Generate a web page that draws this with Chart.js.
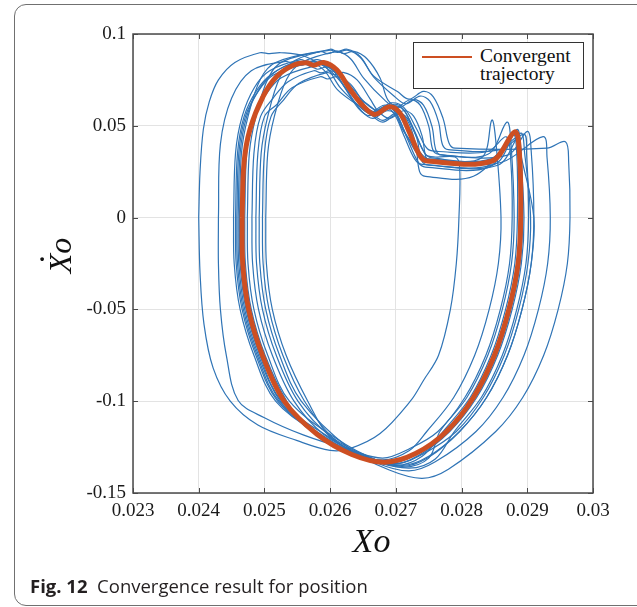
<!DOCTYPE html>
<html>
<head>
<meta charset="utf-8">
<script src="https://cdn.jsdelivr.net/npm/chart.js@4.4.1/dist/chart.umd.min.js"></script>
<style>
  body { margin: 0; background: #fff; width: 637px; height: 607px; overflow: hidden; position: relative; }
  #frame { position: absolute; left: 14px; top: 4px; width: 660px; height: 602px; border: 1px solid #707070; border-radius: 12px; box-sizing: border-box; }
  #chart { position: absolute; left: 0; top: 0; }
  #legend { position: absolute; left: 413px; top: 42px; width: 171px; height: 47px; border: 1px solid #333; box-sizing: border-box; background: #fff; }
  #legend .swatch { position: absolute; left: 8px; top: 13px; width: 50px; height: 2px; background: #cd4f22; }
  #legend .text { position: absolute; left: 66px; top: 4px; font: 19.5px/17.5px 'Liberation Serif', serif; color: #111; }
  #caption { position: absolute; left: 30px; top: 573px; font: 18.5px 'Open Sans', sans-serif; color: #231f20; white-space: pre; }
  #caption b { font-weight: 700; }
</style>
</head>
<body>
<div id="frame"></div>
<canvas id="chart" width="637" height="607"></canvas>
<div id="legend"><span class="swatch"></span><span class="text">Convergent<br>trajectory</span></div>
<div id="caption"><b>Fig. 12</b>  Convergence result for position</div>
<script>
// axis ticks
const xTicks = [0.023, 0.024, 0.025, 0.026, 0.027, 0.028, 0.029, 0.03];
const xTickLabels = ['0.023', '0.024', '0.025', '0.026', '0.027', '0.028', '0.029', '0.03'];
const yTicks = [-0.15, -0.1, -0.05, 0, 0.05, 0.1];
const yTickLabels = ['-0.15', '-0.1', '-0.05', '0', '0.05', '0.1'];

// convergent trajectory (X, dX)
const convergent = [[0.02466,0.000],[0.02469,0.030],[0.02478,0.048],[0.02498,0.066],[0.02519,0.077],[0.02544,0.083],[0.02564,0.0843],[0.02575,0.0830],[0.02590,0.0845],[0.02610,0.0805],[0.02630,0.0700],[0.02651,0.0605],[0.02668,0.0562],[0.02690,0.0604],[0.02705,0.0575],[0.02720,0.0470],[0.02737,0.0335],[0.02748,0.0308],[0.02846,0.0308],[0.02881,0.0467],[0.02888,0.0354],[0.02890,0.000],[0.02886,-0.025],[0.02872,-0.050],[0.02850,-0.075],[0.02818,-0.098],[0.02777,-0.1165],[0.02730,-0.1285],[0.02683,-0.1332],[0.02633,-0.1290],[0.02580,-0.1180],[0.02530,-0.100],[0.02497,-0.075],[0.02476,-0.050],[0.02467,-0.025],[0.02466,0.000]];

// iteration trajectories
const trial01 = [[0.02400,0.000],[0.02402,0.025],[0.02407,0.048],[0.02416,0.063],[0.02430,0.075],[0.02455,0.0845],[0.02493,0.0898],[0.02508,0.0893],[0.02525,0.0898],[0.02560,0.0880],[0.02600,0.0800],[0.02630,0.0680],[0.02655,0.0595],[0.02675,0.0575],[0.02695,0.0610],[0.02712,0.0585],[0.02730,0.0460],[0.02745,0.0345],[0.02760,0.0330],[0.02790,0.0330],[0.02797,0.0280],[0.02796,0.000],[0.02792,-0.025],[0.02783,-0.050],[0.02765,-0.075],[0.02742,-0.0887],[0.02722,-0.100],[0.02676,-0.1176],[0.02630,-0.1258],[0.02600,-0.1268],[0.02550,-0.1215],[0.02490,-0.1130],[0.02448,-0.100],[0.02422,-0.082],[0.02408,-0.058],[0.02402,-0.030],[0.02400,0.000]];
const trial02 = [[0.02430,0.000],[0.02433,0.040],[0.02450,0.065],[0.02480,0.080],[0.02530,0.0850],[0.02545,0.0842],[0.02565,0.0852],[0.02600,0.0820],[0.02630,0.0720],[0.02655,0.0620],[0.02672,0.0585],[0.02693,0.0625],[0.02712,0.0600],[0.02732,0.0480],[0.02748,0.0375],[0.02765,0.0360],[0.02840,0.0360],[0.02868,0.0440],[0.02875,0.0300],[0.02877,0.000],[0.02873,-0.025],[0.02859,-0.050],[0.02837,-0.075],[0.02805,-0.098],[0.02764,-0.1165],[0.02720,-0.1260],[0.02680,-0.1310],[0.02630,-0.1265],[0.02560,-0.1185],[0.02500,-0.1090],[0.02460,-0.0996],[0.02442,-0.075],[0.02433,-0.050],[0.02430,-0.025],[0.02430,0.000]];
const trial03 = [[0.02453,0],[0.02456,0.035],[0.02466,0.055],[0.02485,0.071],[0.02508,0.080],[0.02555,0.0860],[0.02566,0.0848],[0.02581,0.0860],[0.02601,0.0820],[0.02621,0.0715],[0.02643,0.0595],[0.02660,0.0555],[0.02682,0.0597],[0.02697,0.0568],[0.02712,0.0449],[0.02729,0.0317],[0.02740,0.0290],[0.02850,0.0290],[0.02883,0.0470],[0.02889,0.0360],[0.02895,0],[0.02891,-0.025],[0.02877,-0.050],[0.02855,-0.075],[0.02823,-0.098],[0.02782,-0.1165],[0.02735,-0.1295],[0.02695,-0.1345],[0.02645,-0.1300],[0.02585,-0.1185],[0.02517,-0.100],[0.02484,-0.075],[0.02463,-0.050],[0.02454,-0.025],[0.02453,0]];
const trial04 = [[0.02458,0],[0.02461,0.035],[0.02471,0.055],[0.02490,0.0685],[0.02513,0.0775],[0.02560,0.0835],[0.02571,0.0823],[0.02586,0.0835],[0.02606,0.0795],[0.02626,0.0690],[0.02648,0.0580],[0.02665,0.0540],[0.02687,0.0582],[0.02702,0.0553],[0.02717,0.0434],[0.02734,0.0302],[0.02745,0.0275],[0.02842,0.0275],[0.02878,0.0455],[0.02884,0.0345],[0.02885,0],[0.02881,-0.025],[0.02867,-0.050],[0.02845,-0.075],[0.02813,-0.098],[0.02772,-0.1165],[0.02740,-0.1300],[0.02700,-0.1350],[0.02650,-0.1305],[0.02590,-0.1190],[0.02522,-0.100],[0.02489,-0.075],[0.02468,-0.050],[0.02459,-0.025],[0.02458,0]];
const trial05 = [[0.02462,0],[0.02465,0.035],[0.02475,0.055],[0.02494,0.0755],[0.02517,0.0845],[0.02585,0.0905],[0.02596,0.0893],[0.02611,0.0905],[0.02631,0.0865],[0.02651,0.0760],[0.02683,0.0640],[0.02700,0.0600],[0.02722,0.0642],[0.02737,0.0613],[0.02750,0.0498],[0.02756,0.0372],[0.02765,0.0345],[0.02840,0.0345],[0.02869,0.0520],[0.02875,0.0410],[0.02880,0],[0.02876,-0.025],[0.02862,-0.050],[0.02840,-0.075],[0.02808,-0.098],[0.02767,-0.1165],[0.02750,-0.1310],[0.02710,-0.1360],[0.02660,-0.1315],[0.02600,-0.1200],[0.02526,-0.100],[0.02493,-0.075],[0.02472,-0.050],[0.02463,-0.025],[0.02462,0]];
const trial06 = [[0.02470,0],[0.02473,0.035],[0.02483,0.055],[0.02502,0.0670],[0.02525,0.0760],[0.02570,0.0820],[0.02581,0.0808],[0.02596,0.0820],[0.02616,0.0780],[0.02636,0.0675],[0.02658,0.0615],[0.02675,0.0575],[0.02697,0.0617],[0.02712,0.0588],[0.02727,0.0475],[0.02744,0.0352],[0.02755,0.0325],[0.02830,0.0325],[0.02846,0.0531],[0.02852,0.0420],[0.02860,0],[0.02856,-0.025],[0.02842,-0.050],[0.02820,-0.075],[0.02788,-0.098],[0.02747,-0.1165],[0.02720,-0.1270],[0.02680,-0.1320],[0.02630,-0.1275],[0.02570,-0.1160],[0.02534,-0.100],[0.02501,-0.075],[0.02480,-0.050],[0.02471,-0.025],[0.02470,0]];
const trial07 = [[0.02474,0],[0.02477,0.035],[0.02487,0.055],[0.02506,0.0762],[0.02529,0.0852],[0.02600,0.0912],[0.02611,0.0900],[0.02626,0.0912],[0.02646,0.0872],[0.02666,0.0767],[0.02698,0.0660],[0.02715,0.0620],[0.02737,0.0662],[0.02752,0.0633],[0.02765,0.0520],[0.02771,0.0397],[0.02780,0.0370],[0.02860,0.0370],[0.02895,0.0455],[0.02899,0.0345],[0.02902,0],[0.02898,-0.025],[0.02884,-0.050],[0.02862,-0.075],[0.02830,-0.098],[0.02789,-0.1165],[0.02760,-0.1315],[0.02720,-0.1365],[0.02670,-0.1320],[0.02610,-0.1205],[0.02538,-0.100],[0.02505,-0.075],[0.02484,-0.050],[0.02475,-0.025],[0.02474,0]];
const trial08 = [[0.02481,0],[0.02484,0.035],[0.02494,0.055],[0.02513,0.0650],[0.02536,0.0740],[0.02575,0.0800],[0.02586,0.0788],[0.02601,0.0800],[0.02621,0.0760],[0.02641,0.0655],[0.02663,0.0570],[0.02680,0.0530],[0.02702,0.0572],[0.02717,0.0543],[0.02732,0.0432],[0.02739,0.0312],[0.02750,0.0285],[0.02855,0.0285],[0.02890,0.0460],[0.02896,0.0350],[0.02905,0],[0.02901,-0.025],[0.02887,-0.050],[0.02865,-0.075],[0.02833,-0.098],[0.02792,-0.1165],[0.02740,-0.1290],[0.02700,-0.1340],[0.02650,-0.1295],[0.02590,-0.1180],[0.02545,-0.100],[0.02512,-0.075],[0.02491,-0.050],[0.02482,-0.025],[0.02481,0]];
const trial09 = [[0.02487,0],[0.02490,0.035],[0.02500,0.055],[0.02519,0.0617],[0.02542,0.0707],[0.02585,0.0767],[0.02596,0.0755],[0.02611,0.0767],[0.02631,0.0727],[0.02651,0.0622],[0.02663,0.0560],[0.02680,0.0520],[0.02702,0.0562],[0.02717,0.0533],[0.02730,0.0402],[0.02736,0.0252],[0.02745,0.0225],[0.02818,0.0225],[0.02885,0.0440],[0.02891,0.0330],[0.02910,0],[0.02906,-0.025],[0.02892,-0.050],[0.02870,-0.075],[0.02838,-0.098],[0.02797,-0.1165],[0.02750,-0.1300],[0.02710,-0.1350],[0.02660,-0.1305],[0.02600,-0.1190],[0.02551,-0.100],[0.02518,-0.075],[0.02497,-0.050],[0.02488,-0.025],[0.02487,0]];
const trial10 = [[0.02492,0],[0.02495,0.035],[0.02505,0.055],[0.02524,0.0767],[0.02547,0.0857],[0.02600,0.0917],[0.02611,0.0905],[0.02626,0.0917],[0.02646,0.0877],[0.02666,0.0772],[0.02703,0.0685],[0.02720,0.0645],[0.02742,0.0687],[0.02757,0.0658],[0.02772,0.0538],[0.02781,0.0405],[0.02790,0.0378],[0.02930,0.0378],[0.02958,0.0413],[0.02963,0.0300],[0.02965,0],[0.02961,-0.025],[0.02947,-0.050],[0.02925,-0.075],[0.02893,-0.098],[0.02852,-0.1165],[0.02780,-0.1370],[0.02740,-0.1420],[0.02690,-0.1375],[0.02630,-0.1260],[0.02556,-0.100],[0.02523,-0.075],[0.02502,-0.050],[0.02493,-0.025],[0.02492,0]];
const trial11 = [[0.02497,0],[0.02500,0.035],[0.02510,0.055],[0.02529,0.0640],[0.02552,0.0730],[0.02595,0.0790],[0.02606,0.0778],[0.02621,0.0790],[0.02641,0.0750],[0.02661,0.0645],[0.02673,0.0580],[0.02690,0.0540],[0.02712,0.0582],[0.02727,0.0553],[0.02740,0.0444],[0.02746,0.0327],[0.02755,0.0300],[0.02860,0.0300],[0.02924,0.0441],[0.02930,0.0330],[0.02935,0],[0.02931,-0.025],[0.02917,-0.050],[0.02895,-0.075],[0.02863,-0.098],[0.02822,-0.1165],[0.02760,-0.1330],[0.02720,-0.1380],[0.02670,-0.1335],[0.02610,-0.1220],[0.02561,-0.100],[0.02528,-0.075],[0.02507,-0.050],[0.02498,-0.025],[0.02497,0]];
const trial12 = [[0.02502,0],[0.02505,0.035],[0.02515,0.055],[0.02534,0.0755],[0.02557,0.0845],[0.02610,0.0905],[0.02621,0.0893],[0.02636,0.0905],[0.02656,0.0865],[0.02676,0.0760],[0.02688,0.0640],[0.02705,0.0600],[0.02727,0.0642],[0.02742,0.0613],[0.02755,0.0496],[0.02761,0.0367],[0.02770,0.0340],[0.02870,0.0340],[0.02900,0.0470],[0.02906,0.0360],[0.02910,0],[0.02906,-0.025],[0.02892,-0.050],[0.02870,-0.075],[0.02838,-0.098],[0.02797,-0.1165],[0.02750,-0.1305],[0.02710,-0.1355],[0.02660,-0.1310],[0.02600,-0.1195],[0.02566,-0.100],[0.02533,-0.075],[0.02512,-0.050],[0.02503,-0.025],[0.02502,0]];
const trial13 = [[0.02460,0],[0.02463,0.035],[0.02473,0.055],[0.02492,0.0700],[0.02515,0.0790],[0.02550,0.0850],[0.02561,0.0838],[0.02576,0.0850],[0.02596,0.0810],[0.02616,0.0705],[0.02645,0.0605],[0.02662,0.0565],[0.02684,0.0607],[0.02699,0.0578],[0.02714,0.0464],[0.02734,0.0339],[0.02745,0.0312],[0.02848,0.0312],[0.02884,0.0480],[0.02890,0.0370],[0.02893,0],[0.02889,-0.025],[0.02875,-0.050],[0.02853,-0.075],[0.02821,-0.098],[0.02780,-0.1165],[0.02728,-0.1290],[0.02688,-0.1340],[0.02638,-0.1295],[0.02578,-0.1180],[0.02524,-0.100],[0.02491,-0.075],[0.02470,-0.050],[0.02461,-0.025],[0.02460,0]];
const trial14 = [[0.02456,0],[0.02459,0.035],[0.02469,0.055],[0.02488,0.0692],[0.02511,0.0782],[0.02545,0.0842],[0.02556,0.0830],[0.02571,0.0842],[0.02591,0.0802],[0.02611,0.0697],[0.02643,0.0610],[0.02660,0.0570],[0.02682,0.0612],[0.02697,0.0583],[0.02712,0.0470],[0.02739,0.0347],[0.02750,0.0320],[0.02845,0.0320],[0.02880,0.0465],[0.02886,0.0355],[0.02888,0],[0.02884,-0.025],[0.02870,-0.050],[0.02848,-0.075],[0.02816,-0.098],[0.02775,-0.1165],[0.02732,-0.1288],[0.02692,-0.1338],[0.02642,-0.1293],[0.02582,-0.1178],[0.02520,-0.100],[0.02487,-0.075],[0.02466,-0.050],[0.02457,-0.025],[0.02456,0]];

const trials = [trial01, trial02, trial03, trial04, trial05, trial06, trial07,
  trial08, trial09, trial10, trial11, trial12, trial13, trial14];

const BLUE = '#2f74b6';
const RED = '#cd4f22';
const SERIF = "'Liberation Serif', 'Times New Roman', serif";

function to_points(list) {
  return list.map(p => ({x: p[0], y: p[1]}));
}

let datasets = [{
  label: 'Convergent trajectory',
  data: to_points(convergent),
  borderColor: RED,
  borderWidth: 5,
  order: 0
}];
trials.forEach((t, i) => {
  datasets.push({
    label: 'trial ' + (i + 1),
    data: to_points(t),
    borderColor: BLUE,
    borderWidth: 1.2,
    order: 1
  });
});
datasets.forEach(d => {
  d.showLine = true;
  d.pointRadius = 0;
  d.tension = 0.35;
  d.fill = false;
});

// box round the plot with inward ticks, like the original
const box_plugin = {
  id: 'box_plugin',
  afterDatasetsDraw(chart) {
    const {ctx, chartArea: a} = chart;
    const xs = chart.scales.x;
    const ys = chart.scales.y;
    ctx.save();
    ctx.strokeStyle = '#4a4a4a';
    ctx.lineWidth = 1;
    ctx.beginPath();
    xs.ticks.forEach(t => {
      const px = Math.round(xs.getPixelForValue(t.value)) + 0.5;
      ctx.moveTo(px, a.bottom); ctx.lineTo(px, a.bottom - 5);
      ctx.moveTo(px, a.top); ctx.lineTo(px, a.top + 5);
    });
    ys.ticks.forEach(t => {
      const py = Math.round(ys.getPixelForValue(t.value)) + 0.5;
      ctx.moveTo(a.left, py); ctx.lineTo(a.left + 5, py);
      ctx.moveTo(a.right, py); ctx.lineTo(a.right - 5, py);
    });
    ctx.stroke();
    ctx.lineWidth = 1.5;
    ctx.strokeRect(a.left, a.top, a.right - a.left, a.bottom - a.top);
    ctx.restore();
  }
};

new Chart(document.getElementById('chart'), {
  type: 'scatter',
  data: {datasets: datasets},
  options: {
    responsive: false,
    animation: false,
    devicePixelRatio: 1,
    layout: {padding: {top: 34, right: 44, bottom: 44, left: 0}},
    plugins: {legend: {display: false}, tooltip: {enabled: false}},
    scales: {
      x: {
        type: 'linear',
        min: 0.023,
        max: 0.03,
        afterBuildTicks: s => { s.ticks = xTicks.map(v => ({value: v})); },
        afterFit: s => { s.height = 70; },
        grid: {color: '#e3e3e3', drawTicks: false},
        border: {display: false},
        ticks: {
          padding: 7,
          maxRotation: 0,
          autoSkip: false,
          color: '#1a1a1a',
          font: {family: SERIF, size: 19},
          callback: (v, i) => xTickLabels[i]
        },
        title: {
          display: true,
          text: '  Xo',
          color: '#111',
          font: {family: SERIF, size: 34, style: 'italic'},
          padding: {top: 0, bottom: 0}
        }
      },
      y: {
        type: 'linear',
        min: -0.15,
        max: 0.1,
        afterBuildTicks: s => { s.ticks = yTicks.map(v => ({value: v})); },
        afterFit: s => { s.width = 133; },
        grid: {color: '#e3e3e3', drawTicks: false},
        border: {display: false},
        ticks: {
          padding: 7,
          autoSkip: false,
          color: '#1a1a1a',
          font: {family: SERIF, size: 19},
          callback: (v, i) => yTickLabels[i]
        },
        title: {
          display: true,
          text: [' \u00b7', '  Xo'],
          color: '#111',
          font: {family: SERIF, size: 32, style: 'italic', lineHeight: 0.55},
          padding: {top: 36, bottom: 0}
        }
      }
    }
  },
  plugins: [box_plugin]
});
</script>
</body>
</html>
